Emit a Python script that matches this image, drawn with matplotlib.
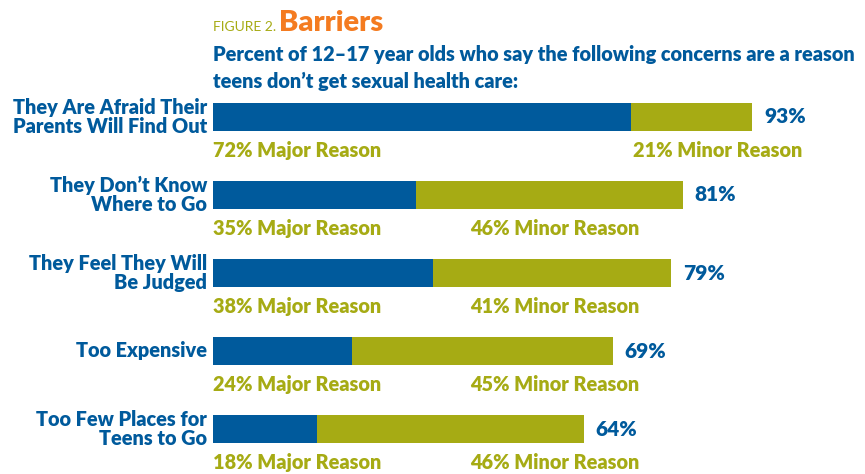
import matplotlib.pyplot as plt

# survey results (percent of 12-17 year olds)
categories = ["They Are Afraid Their\nParents Will Find Out",
              "They Don\u2019t Know\nWhere to Go",
              "They Feel They Will\nBe Judged",
              "Too Expensive",
              "Too Few Places for\nTeens to Go"]
major = [72, 35, 38, 24, 18]
minor = [21, 46, 41, 45, 46]
total = [93, 81, 79, 69, 64]

BLUE = "#005a9c"
OLIVE = "#a6ab14"
ORANGE = "#f47b20"
FONT = "Lato"
WEIGHT = "heavy"
SIZE = 14.3

W, H = 865, 474
fig = plt.figure(figsize=(W / 100, H / 100), dpi=100)
ax = fig.add_axes([213 / W, 0, 638 / W, (H - 78) / H])
ax.set_xlim(0, 110)
ax.set_ylim((H - 117) / 78, -0.5)
ax.axis("off")

rows = range(len(categories))
ax.barh(rows, major, height=0.35, color=BLUE)
ax.barh(rows, minor, left=major, height=0.35, color=OLIVE)

for i in rows:
    ax.text(-1.0, i, categories[i], ha="right", va="center", fontsize=SIZE,
            fontweight=WEIGHT, color=BLUE, family=FONT, linespacing=1.0,
            clip_on=False)
    ax.text(major[i] + minor[i] + 2, i, f"{total[i]}%", ha="left", va="center",
            fontsize=15, fontweight=WEIGHT, color=BLUE, family=FONT)
    ax.text(0, i + 0.43, f"{major[i]}% Major Reason", ha="left", va="center",
            fontsize=SIZE, fontweight=WEIGHT, color=OLIVE, family=FONT)
    ax.text(max(major[i] + 0.4, 44.3), i + 0.43, f"{minor[i]}% Minor Reason",
            ha="left", va="center", fontsize=SIZE, fontweight=WEIGHT,
            color=OLIVE, family=FONT)

# heading: "FIGURE 2." followed by the orange title
fig.text(213 / W, 1 - 31 / H, "FIGURE 2.", ha="left", va="baseline",
         fontsize=10, color=OLIVE, family=FONT)
fig.text(279 / W, 1 - 31 / H, "Barriers", ha="left", va="baseline",
         fontsize=21, fontweight=WEIGHT, color=ORANGE, family=FONT)
fig.text(213 / W, 1 - 54 / H,
         "Percent of 12\u201317 year olds who say the following concerns are a reason",
         ha="left", va="center", fontsize=SIZE, fontweight=WEIGHT, color=BLUE,
         family=FONT)
fig.text(213 / W, 1 - 81 / H, "teens don\u2019t get sexual health care:",
         ha="left", va="center", fontsize=SIZE, fontweight=WEIGHT, color=BLUE,
         family=FONT)

fig.savefig("out.png", dpi=100)
